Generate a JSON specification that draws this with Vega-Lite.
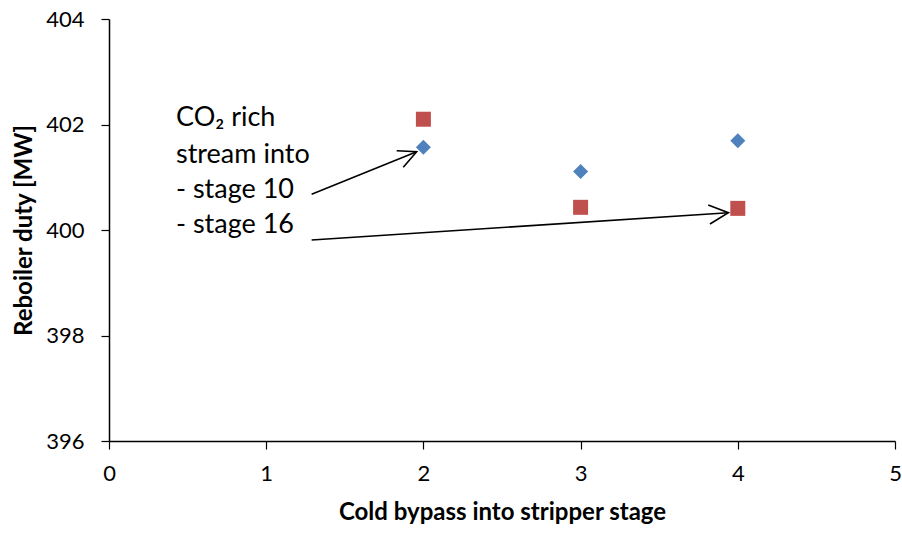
{
  "$schema": "https://vega.github.io/schema/vega-lite/v6.json",
  "width": 786,
  "height": 422,
  "autosize": {"type": "none"},
  "padding": {"left": 109, "top": 19, "right": 7, "bottom": 93},
  "background": "white",
  "config": {
    "view": {"stroke": null},
    "font": "Lato",
    "axis": {
      "grid": false,
      "domainColor": "black",
      "domainWidth": 1.5,
      "tickColor": "black",
      "tickWidth": 1.2,
      "tickSize": 8,
      "labelFont": "Lato",
      "labelFontSize": 22,
      "labelColor": "black",
      "labelFlush": false,
      "labelOverlap": false,
      "titleFont": "Lato",
      "titleFontSize": 24,
      "titleFontWeight": "bold",
      "titleColor": "black"
    }
  },
  "datasets": {
    "points": [
      {"stage": 2, "duty": 401.57, "series": "stage 10"},
      {"stage": 3, "duty": 401.11, "series": "stage 10"},
      {"stage": 4, "duty": 401.69, "series": "stage 10"},
      {"stage": 2, "duty": 402.10, "series": "stage 16"},
      {"stage": 3, "duty": 400.43, "series": "stage 16"},
      {"stage": 4, "duty": 400.41, "series": "stage 16"}
    ],
    "arrows": [
      {"seg": "a1", "o": 0, "x": 1.289, "y": 400.677},
      {"seg": "a1", "o": 1, "x": 1.957, "y": 401.484},
      {"seg": "a1h", "o": 0, "x": 1.830, "y": 401.503},
      {"seg": "a1h", "o": 1, "x": 1.957, "y": 401.484},
      {"seg": "a1h", "o": 2, "x": 1.872, "y": 401.189},
      {"seg": "a2", "o": 0, "x": 1.289, "y": 399.810},
      {"seg": "a2", "o": 1, "x": 3.940, "y": 400.328},
      {"seg": "a2h", "o": 0, "x": 3.812, "y": 400.474},
      {"seg": "a2h", "o": 1, "x": 3.940, "y": 400.328},
      {"seg": "a2h", "o": 2, "x": 3.823, "y": 400.114}
    ],
    "labels": [
      {"x": 0.426, "y": 402.12, "text": "CO₂ rich"},
      {"x": 0.426, "y": 401.42, "text": "stream into"},
      {"x": 0.426, "y": 400.76, "text": "- stage 10"},
      {"x": 0.426, "y": 400.10, "text": "- stage 16"}
    ]
  },
  "layer": [
    {
      "data": {"name": "points"},
      "mark": {"type": "point", "filled": true, "opacity": 1, "size": 225},
      "encoding": {
        "x": {
          "field": "stage", "type": "quantitative",
          "scale": {"domain": [0, 5], "nice": false},
          "axis": {"values": [0, 1, 2, 3, 4, 5], "format": "d", "title": "Cold bypass into stripper stage", "labelPadding": 14, "titlePadding": 16}
        },
        "y": {
          "field": "duty", "type": "quantitative",
          "scale": {"domain": [396, 404], "nice": false, "zero": false},
          "axis": {"values": [396, 398, 400, 402, 404], "format": "d", "title": "Reboiler duty [MW]", "labelPadding": 17, "titlePadding": 9}
        },
        "shape": {
          "field": "series", "type": "nominal",
          "scale": {"domain": ["stage 10", "stage 16"], "range": ["diamond", "square"]},
          "legend": null
        },
        "color": {
          "field": "series", "type": "nominal",
          "scale": {"domain": ["stage 10", "stage 16"], "range": ["#4F81BD", "#C0504D"]},
          "legend": null
        }
      }
    },
    {
      "data": {"name": "arrows"},
      "mark": {"type": "line", "color": "black", "strokeWidth": 1.6},
      "encoding": {
        "x": {"field": "x", "type": "quantitative"},
        "y": {"field": "y", "type": "quantitative"},
        "detail": {"field": "seg"},
        "order": {"field": "o"}
      }
    },
    {
      "data": {"name": "labels"},
      "mark": {"type": "text", "align": "left", "baseline": "middle", "fontSize": 27, "font": "Lato", "color": "black"},
      "encoding": {
        "x": {"field": "x", "type": "quantitative"},
        "y": {"field": "y", "type": "quantitative"},
        "text": {"field": "text"}
      }
    }
  ]
}
